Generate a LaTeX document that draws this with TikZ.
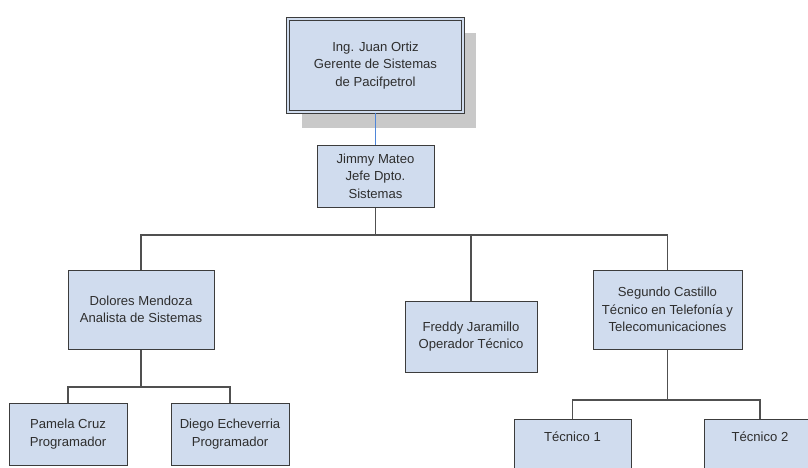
\documentclass[tikz,border=0pt]{standalone}
\usepackage{fontspec}
\setmainfont{Liberation Sans}
\definecolor{boxfill}{HTML}{D0DCEE}
\definecolor{boxline}{HTML}{3C3C3C}
\definecolor{txt}{HTML}{2E2E2E}
\definecolor{blueline}{HTML}{4F86D8}
\definecolor{shadowc}{HTML}{C9C9C9}
\begin{document}
\begin{tikzpicture}[x=1pt,y=-1pt,
  orgbox/.style={draw=boxline, fill=boxfill, line width=1pt, align=center,
    text=txt, inner sep=0pt, font=\fontsize{13.1}{17.5}\selectfont},
  conn/.style={draw=boxline!90, line width=1.2pt},
  topconn/.style={draw=blueline, line width=1.1pt}]
\clip (0,0) rectangle (808,467);
\fill[white] (0,0) rectangle (808,467);
% shadow of top box
\fill[shadowc] (302,33) rectangle (476,128);
% nodes
\node[orgbox, minimum width=175pt, minimum height=93pt, line width=1.1pt,
  double=boxfill, double distance=1.8pt] (top) at (375.5,65.5)
  {Ing. Juan Ortiz\\Gerente de Sistemas\\de Pacifpetrol};
\node[orgbox, minimum width=117pt, minimum height=62pt] (jimmy) at (375.5,176)
  {Jimmy Mateo\\Jefe Dpto.\\Sistemas};
\node[orgbox, minimum width=146pt, minimum height=79pt] (dolores) at (141,309.5)
  {Dolores Mendoza\\Analista de Sistemas};
\node[orgbox, minimum width=132pt, minimum height=71pt] (freddy) at (471,336.5)
  {Freddy Jaramillo\\Operador Técnico};
\node[orgbox, minimum width=149pt, minimum height=79pt] (segundo) at (667.5,309.5)
  {Segundo Castillo\\Técnico en Telefonía y\\Telecomunicaciones};
\node[orgbox, minimum width=118pt, minimum height=62pt] (pamela) at (68,434)
  {Pamela Cruz\\Programador};
\node[orgbox, minimum width=118pt, minimum height=62pt] (diego) at (230,434)
  {Diego Echeverria\\Programador};
\node[orgbox, minimum width=117pt, text height=22.5pt, text depth=47.5pt] (tec1) at (572.5,454)
  {Técnico 1};
\node[orgbox, minimum width=112pt, text height=22.5pt, text depth=47.5pt] (tec2) at (760,454)
  {Técnico 2};
% connectors
\draw[topconn] (top.south) -- (jimmy.north);
\coordinate (bus) at (375.5,235);
\draw[conn] (jimmy.south) -- (bus) -| (dolores.north);
\draw[conn] (bus) -| (segundo.north);
\draw[conn] (freddy.north) -- (freddy.north |- bus);
\coordinate (busL) at (141,387);
\draw[conn] (dolores.south) -- (busL) -| (pamela.north);
\draw[conn] (busL) -| (diego.north);
\coordinate (busR) at (667.5,400);
\draw[conn] (segundo.south) -- (busR) -| (tec1.north);
\draw[conn] (busR) -| (tec2.north);
\end{tikzpicture}
\end{document}
